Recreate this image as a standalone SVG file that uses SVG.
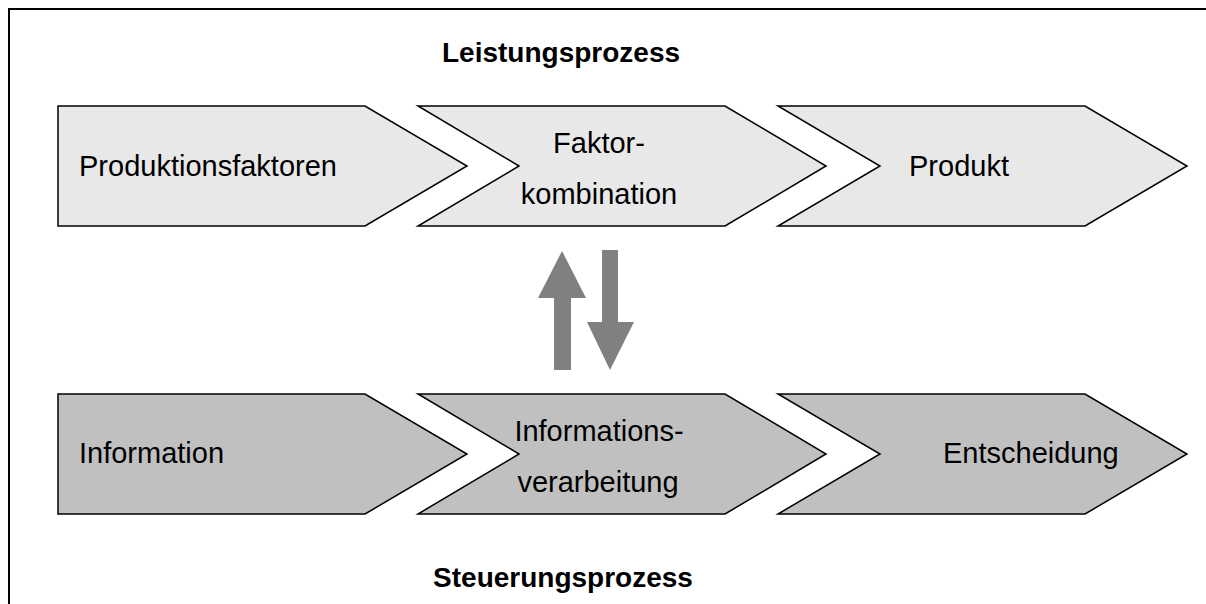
<svg xmlns="http://www.w3.org/2000/svg" width="1206" height="604" viewBox="0 0 1206 604">
  <style>
    .frame { fill: #ffffff; stroke: #000000; stroke-width: 2; }
    .step { stroke: #000000; stroke-width: 1.5; stroke-linejoin: miter; }
    .lead { fill: #e8e8e8; }
    .ctrl { fill: #c0c0c0; }
    .lbl { font-family: "Liberation Sans", Arial, sans-serif; font-size: 29px; fill: #000000; }
    .title { font-family: "Liberation Sans", Arial, sans-serif; font-size: 28px; font-weight: bold; fill: #000000; text-anchor: middle; }
    .flow { fill: #808080; }
  </style>

  <rect class="frame" x="9" y="9" width="1220" height="620"/>

  <text class="title" x="561" y="62">Leistungsprozess</text>
  <text class="title" x="563" y="587">Steuerungsprozess</text>

  <!-- upper chain: Leistungsprozess -->
  <g id="produktionsfaktoren">
    <polygon class="step lead" points="58,106 365,106 467,166 365,226 58,226"/>
    <text class="lbl" x="79" y="176">Produktionsfaktoren</text>
  </g>
  <g id="faktorkombination">
    <polygon class="step lead" points="418,106 725,106 826,166 725,226 418,226 519,166"/>
    <text class="lbl" x="599" y="153" text-anchor="middle">Faktor-</text>
    <text class="lbl" x="599" y="204" text-anchor="middle">kombination</text>
  </g>
  <g id="produkt">
    <polygon class="step lead" points="778,106 1085,106 1187,166 1085,226 778,226 880,166"/>
    <text class="lbl" x="909" y="176">Produkt</text>
  </g>

  <!-- lower chain: Steuerungsprozess -->
  <g id="information">
    <polygon class="step ctrl" points="58,394 365,394 467,454 365,514 58,514"/>
    <text class="lbl" x="79" y="463">Information</text>
  </g>
  <g id="informationsverarbeitung">
    <polygon class="step ctrl" points="418,394 725,394 826,454 725,514 418,514 519,454"/>
    <text class="lbl" x="599" y="441" text-anchor="middle">Informations-</text>
    <text class="lbl" x="598" y="492" text-anchor="middle">verarbeitung</text>
  </g>
  <g id="entscheidung">
    <polygon class="step ctrl" points="778,394 1085,394 1187,454 1085,514 778,514 880,454"/>
    <text class="lbl" x="943" y="463">Entscheidung</text>
  </g>

  <!-- exchange between the two processes -->
  <g id="connectors">
    <polygon class="flow" points="562,251 586,298 571,298 571,370 554,370 554,298 538,298"/>
    <polygon class="flow" points="602,250 618,250 618,322 634,322 610,370 587,322 602,322"/>
  </g>
</svg>
